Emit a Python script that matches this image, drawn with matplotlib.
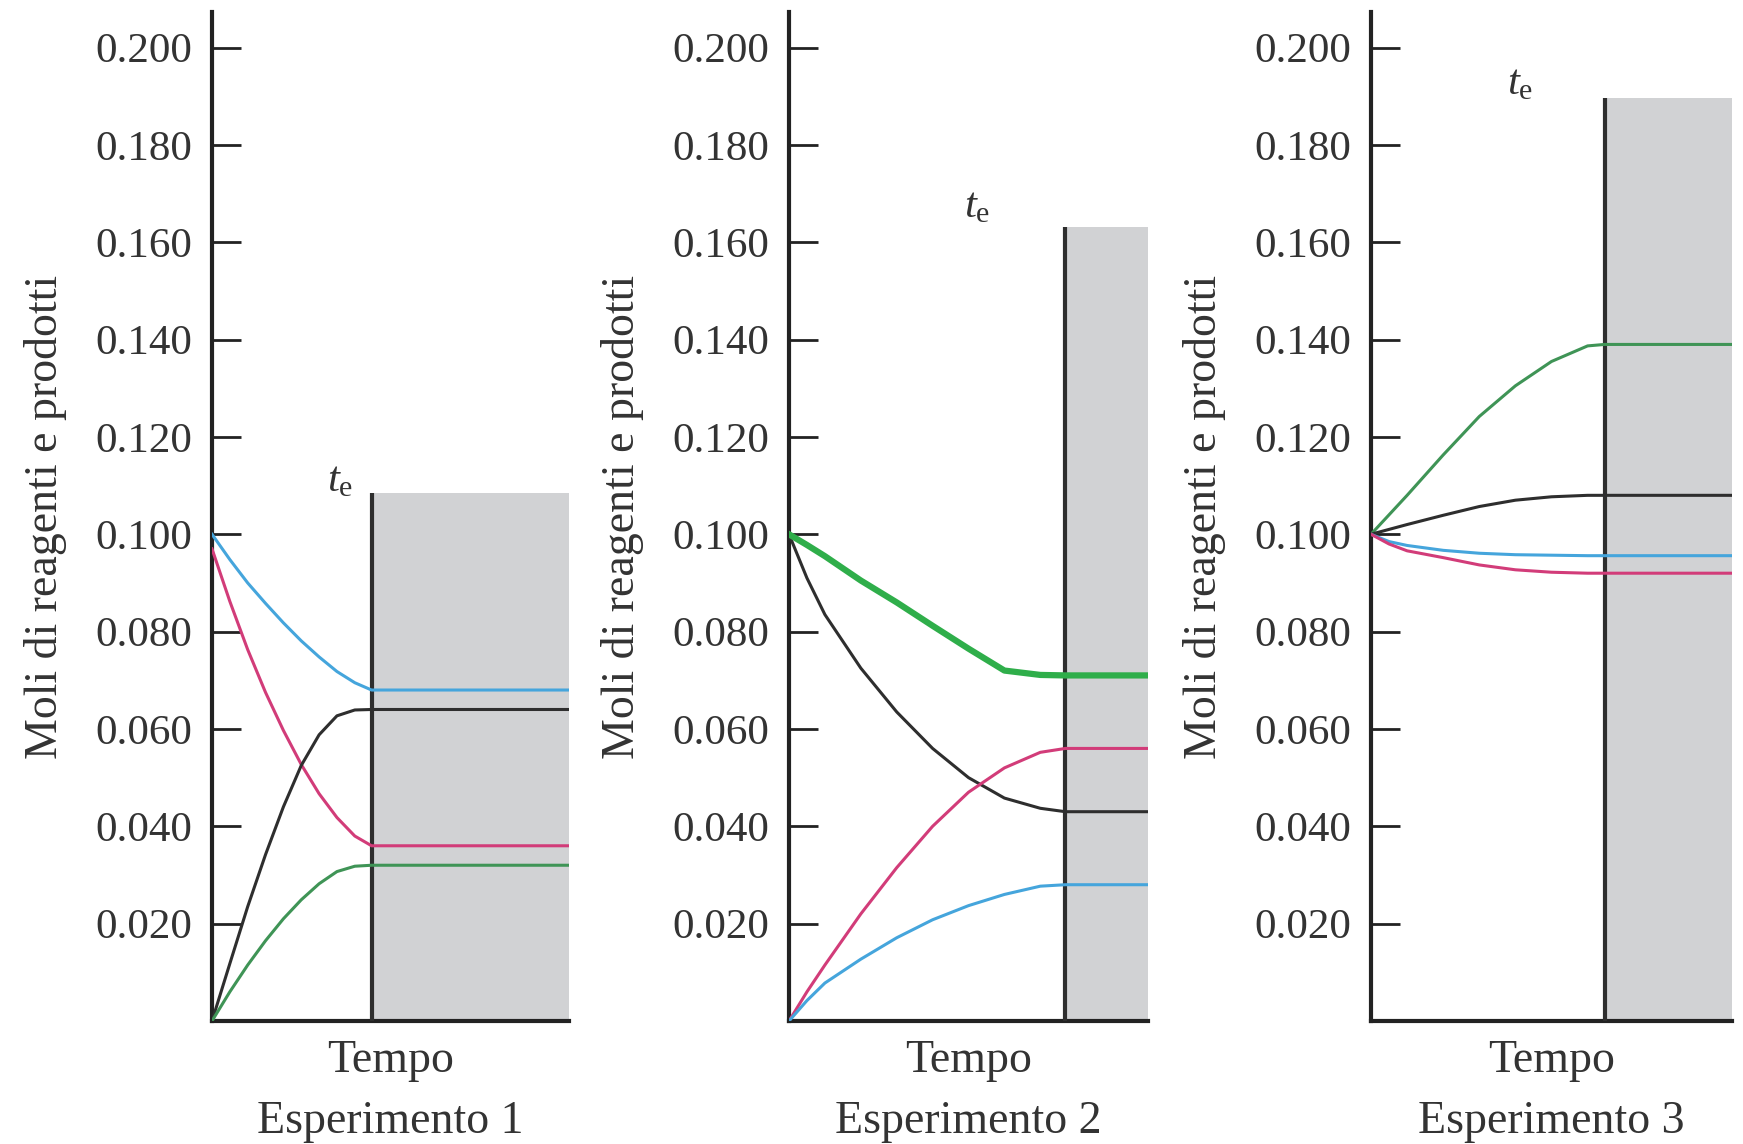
import matplotlib
matplotlib.use("Agg")
import matplotlib.pyplot as plt

plt.rcParams["font.family"] = ["Liberation Serif", "DejaVu Serif"]
plt.rcParams["mathtext.fontset"] = "custom"
plt.rcParams["mathtext.rm"] = "Liberation Serif"
plt.rcParams["mathtext.it"] = "Liberation Serif:italic"

# --- data (time as fraction of axis, moles) ---
y_ticks = [0.020, 0.040, 0.060, 0.080, 0.100, 0.120, 0.140, 0.160, 0.180, 0.200]
y_ticklabels = ["0.020", "0.040", "0.060", "0.080", "0.100",
                "0.120", "0.140", "0.160", "0.180", "0.200"]

exp1_t = [0.0, 0.05, 0.10, 0.15, 0.20, 0.25, 0.30, 0.35, 0.40, 0.447, 1.0]
exp1_cyan = [0.100, 0.0948, 0.0900, 0.0858, 0.0818, 0.0781, 0.0748, 0.0718, 0.0695, 0.068, 0.068]
exp1_magenta = [0.097, 0.0862, 0.0763, 0.0675, 0.0597, 0.0527, 0.0467, 0.0418, 0.038, 0.036, 0.036]
exp1_black = [0.0, 0.0118, 0.0235, 0.0342, 0.044, 0.0525, 0.0588, 0.0627, 0.0639, 0.064, 0.064]
exp1_green = [0.0, 0.006, 0.0115, 0.0165, 0.021, 0.0249, 0.0282, 0.0307, 0.0318, 0.032, 0.032]

exp2_t = [0.0, 0.05, 0.10, 0.20, 0.30, 0.40, 0.50, 0.60, 0.70, 0.77, 1.0]
exp2_green = [0.100, 0.0978, 0.0955, 0.0905, 0.086, 0.0812, 0.0765, 0.072, 0.0711, 0.071, 0.071]
exp2_black = [0.100, 0.091, 0.0835, 0.0725, 0.0635, 0.056, 0.050, 0.0458, 0.0437, 0.043, 0.043]
exp2_magenta = [0.0, 0.006, 0.0115, 0.022, 0.0315, 0.040, 0.047, 0.052, 0.0552, 0.056, 0.056]
exp2_cyan = [0.0, 0.0042, 0.0078, 0.0127, 0.0171, 0.0208, 0.0237, 0.026, 0.0277, 0.028, 0.028]

exp3_t = [0.0, 0.05, 0.10, 0.20, 0.30, 0.40, 0.50, 0.60, 0.647, 1.0]
exp3_green = [0.100, 0.104, 0.108, 0.1163, 0.1242, 0.1305, 0.1355, 0.1387, 0.139, 0.139]
exp3_black = [0.100, 0.101, 0.102, 0.1039, 0.1057, 0.107, 0.1077, 0.108, 0.108, 0.108]
exp3_cyan = [0.100, 0.0985, 0.0977, 0.0967, 0.0961, 0.0958, 0.0957, 0.0956, 0.0956, 0.0956]
exp3_magenta = [0.100, 0.098, 0.0966, 0.0952, 0.0937, 0.0927, 0.0922, 0.0920, 0.092, 0.092]

t_eq = [0.447, 0.77, 0.647]            # equilibrium time per experiment
eq_box_top = [0.1084, 0.1632, 0.1897]  # height of shaded region
te_label_pos = [(0.36, 0.111), (0.524, 0.1673), (0.413, 0.1924)]
exp_names = ["Esperimento 1", "Esperimento 2", "Esperimento 3"]

CYAN = "#45a5dc"
MAGENTA = "#d23c79"
BLACK = "#2e2e2e"
GREEN = "#3f9456"
GREEN2 = "#2fae4a"
GRAY = "#d1d2d4"
TEXT = "#333333"

W, H = 1743, 1144
fig = plt.figure(figsize=(W / 100, H / 100), dpi=100)

# axes boxes in pixels: left, right
ax_px = [(212, 569), (789, 1148), (1371, 1732)]
bottom_px, top_px = 1021, 12
y_max = 0.2073

series = [
    (exp1_t, [(exp1_cyan, CYAN, 2.2), (exp1_magenta, MAGENTA, 2.2),
              (exp1_black, BLACK, 2.2), (exp1_green, GREEN, 2.2)]),
    (exp2_t, [(exp2_black, BLACK, 2.2), (exp2_magenta, MAGENTA, 2.2),
              (exp2_cyan, CYAN, 2.2), (exp2_green, GREEN2, 4.5)]),
    (exp3_t, [(exp3_green, GREEN, 2.2), (exp3_black, BLACK, 2.2),
              (exp3_cyan, CYAN, 2.2), (exp3_magenta, MAGENTA, 2.2)]),
]

for i, (l_px, r_px) in enumerate(ax_px):
    ax = fig.add_axes([l_px / W, 1 - bottom_px / H, (r_px - l_px) / W, (bottom_px - top_px) / H])
    ax.set_xlim(0, 1)
    ax.set_ylim(0, y_max)

    te = t_eq[i]
    ax.fill_between([te, 1.0], 0, eq_box_top[i], color=GRAY, linewidth=0, zorder=1)
    ax.vlines(te, 0, eq_box_top[i], color=BLACK, linewidth=3.0, zorder=3)

    t, curves = series[i]
    for vals, col, lw in curves:
        ax.plot(t, vals, color=col, linewidth=lw, solid_joinstyle="round", zorder=4)

    for s in ["top", "right"]:
        ax.spines[s].set_visible(False)
    for s in ["left", "bottom"]:
        ax.spines[s].set_linewidth(3.0)
        ax.spines[s].set_color("#222222")

    ax.set_xticks([])
    ax.set_yticks(y_ticks)
    ax.set_yticklabels(y_ticklabels)
    ax.tick_params(axis="y", direction="in", length=21, width=2.0, pad=14,
                   labelsize=31, labelcolor=TEXT, color="#222222")

    lx, ly = te_label_pos[i]
    ax.text(lx, ly, r"$t_\mathrm{e}$", fontsize=31, ha="center", va="center", color=TEXT)

    ax.text(-166 / (r_px - l_px), 0.5, "Moli di reagenti e prodotti", transform=ax.transAxes,
            rotation=90, ha="center", va="center", fontsize=33, color=TEXT)
    ax.text(0.5, -40 / (bottom_px - top_px), "Tempo", transform=ax.transAxes,
            ha="center", va="center", fontsize=33, color=TEXT)
    ax.text(0.5, -101 / (bottom_px - top_px), exp_names[i], transform=ax.transAxes,
            ha="center", va="center", fontsize=33, color=TEXT)

fig.savefig("out.png", dpi=100, facecolor="white")
